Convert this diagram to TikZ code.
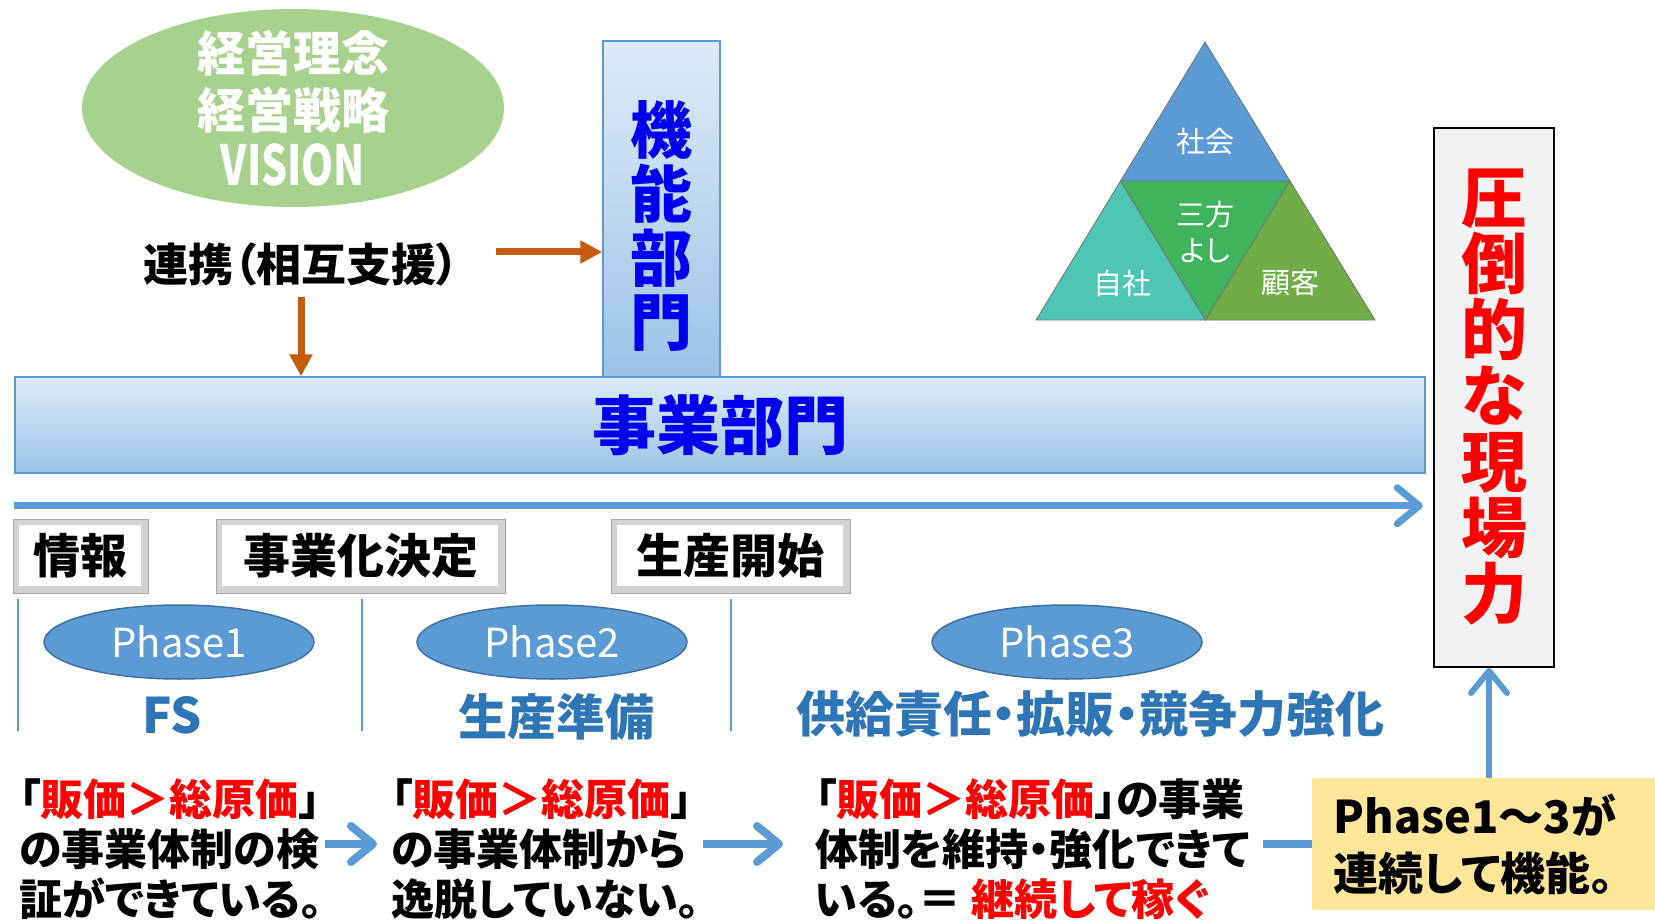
\documentclass[tikz,border=0pt]{standalone}
\usepackage{fontspec}
\setmainfont{Noto Sans CJK JP}[RawFeature=+palt]
\usepackage{tikz}
\usetikzlibrary{arrows.meta,shapes.geometric,calc}

\definecolor{sky}{HTML}{5B9BD5}
\definecolor{skydark}{HTML}{41719C}
\definecolor{ocean}{HTML}{2E75B6}
\definecolor{rust}{HTML}{C55A11}
\definecolor{leaf}{HTML}{A9D18E}
\definecolor{pale}{HTML}{DEEBF7}
\definecolor{mid}{HTML}{9DC3E6}
\definecolor{cream}{HTML}{FFE699}
\definecolor{teal}{HTML}{4FC6B4}
\definecolor{grass}{HTML}{3FB45C}
\definecolor{olive}{HTML}{70AD47}
\definecolor{pureblue}{HTML}{0000F0}
\definecolor{signal}{HTML}{FF0000}
\newcommand{\fsz}[2]{\fontsize{#1}{#2}\selectfont}

\begin{document}
\begin{tikzpicture}[x=1pt,y=-1pt,
    panel/.style={draw=sky, line width=1.5pt, top color=pale, bottom color=mid},
    stagebox/.style={draw=gray!70, line width=1pt, fill=gray!35, minimum height=74pt, font=\fsz{47}{47}\bfseries,
        path picture={\fill[white] ([shift={(6pt,-6pt)}]path picture bounding box.north west) rectangle ([shift={(-7pt,7pt)}]path picture bounding box.south east);}},
    phase/.style={ellipse, draw=skydark, line width=1.5pt, fill=sky, minimum width=270pt, minimum height=74pt, text=white, font=\fsz{40}{40}},
    phaselabel/.style={text=ocean, font=\fsz{49}{49}\bfseries},
    note/.style={anchor=west, inner sep=0pt, align=left, font=\fsz{43}{50}\bfseries},
    tritext/.style={text=white, font=\fsz{29}{29}},
    tri/.style={draw=black!55, line width=0.8pt},
    rustarrow/.style={draw=rust, line width=7pt, -{Triangle[length=22pt,width=22pt]}},
    flow/.style={draw=sky, line width=8pt, -{Straight Barb[length=22pt,width=36pt,round]}},
    divider/.style={draw=sky, line width=2pt}]
        \useasboundingbox (0,0) rectangle (1655,920);

        \node[ellipse, fill=leaf, minimum width=422pt, minimum height=198pt] (1) at (293,108) {};
        \node[text=white, align=center, font=\fsz{48}{57}\bfseries] (1t) at (1.center) {経営理念\\経営戦略\\\scalebox{0.85}[1.15]{VISION}};
        \node[panel, minimum width=117pt, minimum height=336pt] (2) at (661.5,209) {};
        \node[text=pureblue, align=center, font=\fsz{62}{64}\bfseries] (2t) at (661.5,226) {機\\能\\部\\門};
        \node[font=\fsz{45}{45}\bfseries] (3) at (301,264) {連携（相互支援）};
        \node[panel, minimum width=1410pt, minimum height=96pt, text=pureblue, font=\fsz{64}{64}\bfseries] (4) at (720,425) {事業部門};

        \coordinate (3r) at ([shift={(34pt,12pt)}]3.east);
        \draw[rustarrow] (3r) -- (3r -| 2.west);
        \draw[rustarrow] ([yshift=-8pt]3.south) -- (3.south |- 4.north);
        \draw[flow, line width=7pt] ([yshift=-32pt]4.south west) -- ([shift={(-3pt,-32pt)}]4.south east);

        \node[stagebox, minimum width=135pt] (5) at (80.5,556) {情報};
        \node[stagebox, minimum width=289pt] (6) at (360.5,556) {事業化決定};
        \node[stagebox, minimum width=239pt] (7) at (730.5,556) {生産開始};
        \draw[divider] ([shift={(5pt,-5pt)}]5.south west) -- ([shift={(5pt,-137pt)}]5.south west);
        \draw[divider] ([shift={(1.5pt,-5pt)}]6.south) -- ([shift={(1.5pt,-137pt)}]6.south);
        \draw[divider] ([shift={(0.5pt,-5pt)}]7.south) -- ([shift={(0.5pt,-137pt)}]7.south);

        \node[phase] (8) at (179,642) {Phase1};
        \node[phase] (9) at (552,642) {Phase2};
        \node[phase] (10) at (1067,642) {Phase3};
        \node[phaselabel] (11) at (172,715) {FS};
        \node[phaselabel] (12) at (556,717) {生産準備};
        \node[phaselabel] (13) at (1090,714) {供給責任・拡販・競争力強化};

        \node[note] (14) at (19,849) {「{\color{signal}販価＞総原価}」\\の事業体制の検\\証ができている。};
        \node[note] (15) at (391,849) {「{\color{signal}販価＞総原価}」\\の事業体制から\\逸脱していない。};
        \node[note] (16) at (815,849) {「{\color{signal}販価＞総原価}」の事業\\体制を維持・強化できて\\いる。＝ {\color{signal}継続して稼ぐ}};
        \draw[flow] ([shift={(-66pt,5pt)}]15.west) -- ([shift={(-14pt,5pt)}]15.west);
        \draw[flow] ([shift={(-112pt,5pt)}]16.west) -- ([shift={(-32pt,5pt)}]16.west);

        \node[fill=cream, minimum width=343pt, minimum height=132pt, text width=300pt, align=left, font=\fsz{45}{57}\bfseries] (17) at (1483.5,844) {Phase1～3が\\連続して機能。};
        \draw[sky, line width=8pt] ([xshift=-49pt]17.west) -- (17.west);
        \node[draw=black, line width=2pt, fill=gray!10, minimum width=120pt, minimum height=539pt, text=signal, align=center, font=\fsz{66}{66}\bfseries] (18) at (1494,397.5) {圧\\倒\\的\\な\\現\\場\\力};
        \coordinate (18u) at ([xshift=-5pt]18.south);
        \draw[flow, line width=6pt] (18u |- 17.north) -- (18u);

        \coordinate (a) at (1205,42);
        \coordinate (b) at (1036,320);
        \coordinate (c) at (1375,320);
        \coordinate (ab) at ($(a)!0.5!(b)$);
        \coordinate (ac) at ($(a)!0.5!(c)$);
        \coordinate (bc) at ($(b)!0.5!(c)$);
        \filldraw[tri, fill=sky] (a) -- (ab) -- (ac) -- cycle;
        \filldraw[tri, fill=teal] (ab) -- (b) -- (bc) -- cycle;
        \filldraw[tri, fill=grass] (ab) -- (bc) -- (ac) -- cycle;
        \filldraw[tri, fill=olive] (ac) -- (bc) -- (c) -- cycle;
        \node[tritext] (19) at (1205,142) {社会};
        \node[tritext, align=center, font=\fsz{29}{36}] (20) at (1205,232) {三方\\よし};
        \node[tritext] (21) at (1122,283) {自社};
        \node[tritext] (22) at (1290,283) {顧客};
    \end{tikzpicture}
\end{document}
